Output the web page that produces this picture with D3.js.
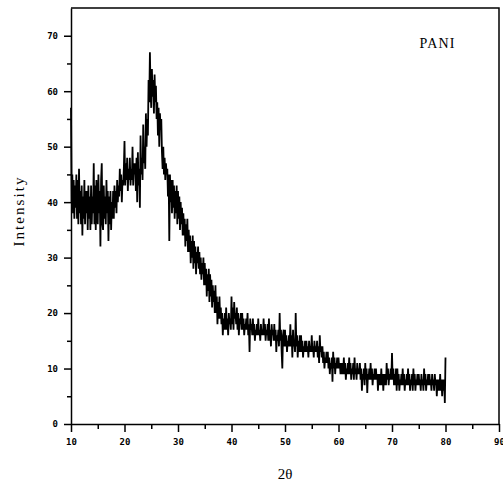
<!DOCTYPE html>
<html>
<head>
<meta charset="utf-8">
<script src="https://cdn.jsdelivr.net/npm/d3@7"></script>
<style>
  body { margin: 0; background: #fff; }
  svg { display: block; }
  .tick text { font-family: "DejaVu Sans Mono", monospace; font-weight: bold; font-size: 9px; }
  .lbl { font-family: "Liberation Serif", "Times New Roman", serif; }
</style>
</head>
<body>
<svg width="503" height="485"></svg>
<script>
// 2theta start / step of the scan
const thetaStart = 10;
const thetaStep = 0.125;

// intensity, one row per degree (10..79), 8 readings each, then the last point at 80
const intensity = [
  57, 40, 45, 38, 44, 37, 43, 39,
  45, 37, 44, 36, 46, 38, 42, 36,
  43, 34, 41, 37, 44, 36, 42, 38,
  42, 35, 43, 37, 41, 35, 43, 36,
  41, 38, 47, 36, 43, 35, 44, 38,
  36, 45, 38, 42, 32, 44, 47, 36,
  35, 43, 37, 41, 36, 44, 38, 42,
  33, 41, 36, 42, 35, 40, 37, 42,
  37, 43, 39, 42, 38, 44, 40, 43,
  41, 46, 42, 45, 40, 44, 43, 46,
  51, 43, 47, 44, 48, 42, 46, 44,
  48, 43, 46, 44, 50, 43, 47, 45,
  47, 42, 48, 40, 49, 43, 46, 39,
  52, 45, 48, 44, 54, 47, 50, 46,
  56, 50, 55, 52, 62, 58, 67, 60,
  57, 64, 59, 62, 56, 63, 58, 61,
  55, 58, 52, 57, 50, 56, 53, 55,
  49, 46, 50, 45, 48, 44, 47, 45,
  46, 41, 45, 33, 45, 40, 44, 38,
  44, 39, 43, 37, 42, 38, 43, 36,
  42, 37, 41, 35, 40, 36, 39, 34,
  38, 34, 37, 32, 36, 33, 37, 31,
  35, 31, 34, 29, 33, 30, 34, 28,
  33, 29, 32, 27, 31, 29, 32, 28,
  31, 27, 30, 26, 29, 27, 30, 25,
  29, 25, 28, 23, 27, 24, 28, 22,
  27, 23, 26, 21, 25, 22, 24, 20,
  25, 20, 23, 18, 22, 19, 23, 19,
  21, 18, 20, 16, 19, 17, 20, 17,
  21, 17, 19, 16, 20, 18, 19, 17,
  23, 18, 21, 17, 22, 19, 20, 18,
  21, 17, 20, 16, 19, 18, 20, 17,
  20, 17, 19, 16, 18, 17, 19, 17,
  20, 16, 18, 13, 19, 17, 18, 16,
  19, 16, 18, 15, 17, 16, 18, 16,
  19, 16, 17, 15, 18, 16, 17, 16,
  19, 16, 18, 15, 17, 16, 18, 15,
  19, 15, 17, 14, 18, 16, 17, 15,
  18, 15, 17, 13, 16, 15, 17, 14,
  20, 15, 17, 13, 10, 16, 17, 14,
  17, 14, 16, 13, 15, 14, 16, 14,
  18, 14, 16, 12, 17, 14, 15, 13,
  20, 14, 16, 12, 15, 13, 16, 13,
  16, 13, 15, 12, 14, 13, 15, 13,
  15, 13, 14, 12, 15, 13, 14, 13,
  16, 13, 14, 12, 15, 13, 14, 13,
  15, 12, 14, 11, 16, 13, 14, 12,
  14, 11, 13, 10, 12, 11, 13, 11,
  13, 10, 12, 9, 11, 10, 12, 7.6,
  13, 10, 12, 9, 11, 10, 12, 10,
  12, 10, 11, 9, 11, 9, 11, 9,
  12, 9, 11, 8, 10, 9, 11, 9,
  12, 9, 11, 8, 10, 9, 11, 8,
  12, 9, 10, 8, 11, 9, 10, 9,
  11, 8, 10, 6, 9, 8, 10, 7,
  11, 8, 10, 5.6, 9, 8, 10, 8,
  11, 8, 10, 7, 9, 8, 10, 8,
  10, 8, 9, 6, 9, 7, 9, 7,
  10, 7, 9, 6, 9, 7, 9, 7,
  11, 8, 10, 7, 9, 8, 10, 8,
  12.8, 8, 10, 7, 9, 7, 10, 6,
  10, 7, 9, 6, 8, 7, 9, 7,
  10, 7, 9, 6, 8, 7, 9, 7,
  10, 7, 9, 6, 8, 7, 9, 6,
  10, 7, 9, 6, 8, 7, 9, 7,
  9, 7, 8, 6, 9, 7, 8, 6,
  10, 7, 9, 6, 8, 7, 9, 7,
  9, 7, 8, 6, 9, 7, 8, 6,
  9, 7, 8, 5, 8, 6, 8, 6,
  9, 6, 8, 5, 8, 6, 8, 3.8,
  12
];

const xTicks = [10, 20, 30, 40, 50, 60, 70, 80, 90];
const yTicks = [0, 10, 20, 30, 40, 50, 60, 70];
const xMinor = [15, 25, 35, 45, 55, 65, 75, 85];
const yMinor = [5, 15, 25, 35, 45, 55, 65];

const data = intensity.map((v, i) => ({ x: thetaStart + i * thetaStep, y: v }));

const svg = d3.select("svg");
const mLeft = 71, mRight = 499, mTop = 8, mBottom = 424;

const x = d3.scaleLinear().domain([10, 90]).range([mLeft, mRight]);
const y = d3.scaleLinear().domain([0, 75]).range([mBottom, mTop]);

// frame (top and right)
svg.append("path")
  .attr("d", `M${mLeft},${mTop}H${mRight}V${mBottom}`)
  .attr("fill", "none")
  .attr("stroke", "#000")
  .attr("stroke-width", 1.5);

// minor ticks
svg.append("g")
  .attr("transform", `translate(0,${mBottom})`)
  .call(d3.axisBottom(x).tickValues(xMinor).tickSize(5).tickFormat(""))
  .call(g => g.select(".domain").remove())
  .selectAll("line").attr("stroke-width", 1.5);

svg.append("g")
  .attr("transform", `translate(${mLeft},0)`)
  .call(d3.axisLeft(y).tickValues(yMinor).tickSize(4).tickFormat(""))
  .call(g => g.select(".domain").remove())
  .selectAll("line").attr("stroke-width", 1.5);

// major axes
const xAxis = svg.append("g")
  .attr("transform", `translate(0,${mBottom})`)
  .call(d3.axisBottom(x).tickValues(xTicks).tickSizeInner(8).tickSizeOuter(0).tickPadding(7));
xAxis.select(".domain").attr("stroke-width", 1.5);
xAxis.selectAll(".tick line").attr("stroke-width", 1.5);

const yAxis = svg.append("g")
  .attr("transform", `translate(${mLeft},0)`)
  .call(d3.axisLeft(y).tickValues(yTicks).tickSizeInner(7).tickSizeOuter(0).tickPadding(6));
yAxis.select(".domain").attr("stroke-width", 1.5);
yAxis.selectAll(".tick line").attr("stroke-width", 1.5);

// pattern
const line = d3.line().x(d => x(d.x)).y(d => y(d.y));
svg.append("path")
  .datum(data)
  .attr("d", line)
  .attr("fill", "none")
  .attr("stroke", "#000")
  .attr("stroke-width", 1.8)
  .attr("stroke-linejoin", "bevel");

// labels
svg.append("text")
  .attr("class", "lbl")
  .attr("transform", "translate(24,212) rotate(-90)")
  .attr("text-anchor", "middle")
  .attr("font-size", 15)
  .attr("textLength", 69)
  .attr("lengthAdjust", "spacing")
  .text("Intensity");

svg.append("text")
  .attr("class", "lbl")
  .attr("x", 285)
  .attr("y", 479)
  .attr("text-anchor", "middle")
  .attr("font-size", 15)
  .text("2θ");

svg.append("text")
  .attr("class", "lbl")
  .attr("x", 437)
  .attr("y", 48)
  .attr("text-anchor", "middle")
  .attr("font-size", 14)
  .attr("textLength", 35)
  .attr("lengthAdjust", "spacing")
  .text("PANI");
</script>
</body>
</html>
